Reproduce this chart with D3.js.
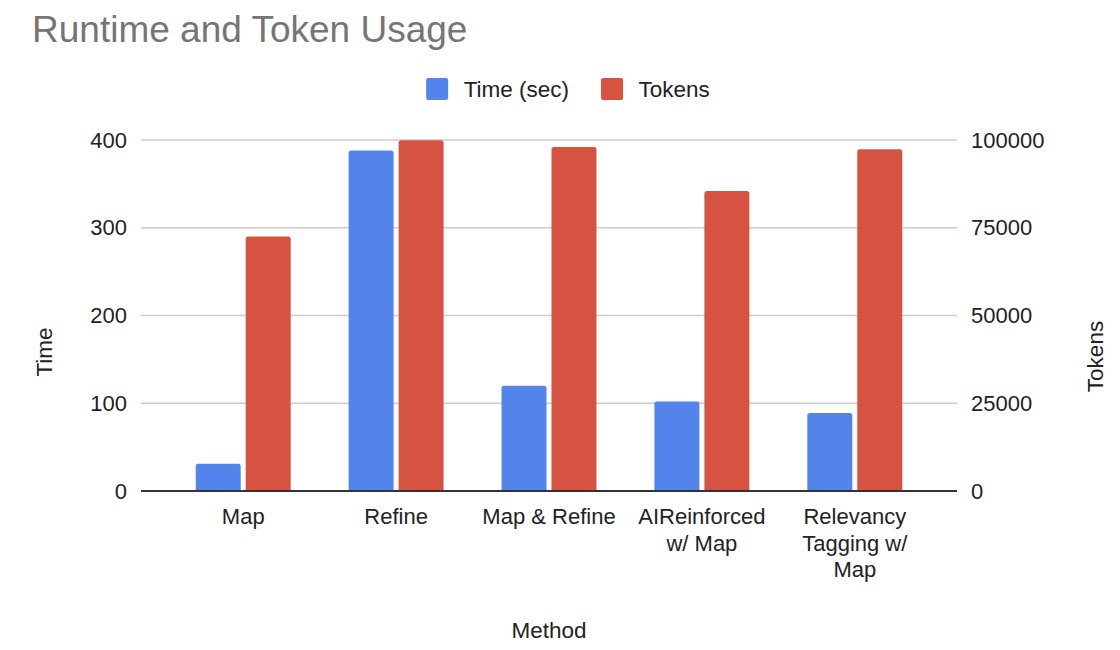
<!DOCTYPE html>
<html>
<head>
<meta charset="utf-8">
<script src="https://cdn.jsdelivr.net/npm/d3@7"></script>
<style>
  body { margin: 0; background: #fff; }
  text { font-family: "Liberation Sans", Arial, sans-serif; fill: #222; }
</style>
</head>
<body>
<div id="chart"></div>
<script>
// chart data
var categories = ["Map", "Refine", "Map & Refine", "AIReinforced w/ Map", "Relevancy Tagging w/ Map"];
var categoryLines = [["Map"], ["Refine"], ["Map & Refine"], ["AIReinforced", "w/ Map"], ["Relevancy", "Tagging w/", "Map"]];
var timeValues = [31, 388, 120, 102, 89];
var tokenValues = [72500, 99900, 98000, 85500, 97400];
var timeTicks = [0, 100, 200, 300, 400];
var tokenTicks = [0, 25000, 50000, 75000, 100000];
var seriesNames = ["Time (sec)", "Tokens"];
var seriesColors = ["#5384ec", "#d65241"];

var svgWidth = 1120;
var svgHeight = 650;

var plot = { left: 141, right: 957, top: 140, bottom: 491 };

var svg = d3.select("#chart")
    .append("svg")
    .attr("width", svgWidth)
    .attr("height", svgHeight);

// scales
var x0 = d3.scaleBand()
    .domain(categories)
    .range([plot.left, plot.right])
    .paddingInner(0.379)
    .paddingOuter(0.358);

var x1 = d3.scaleBand()
    .domain(seriesNames)
    .range([0, x0.bandwidth()])
    .paddingInner(0.1);

var yTime = d3.scaleLinear().domain([0, 400]).range([plot.bottom, plot.top]);
var yTokens = d3.scaleLinear().domain([0, 100000]).range([plot.bottom, plot.top]);

// gridlines
svg.append("g")
    .selectAll("line")
    .data(timeTicks.slice(1))
    .enter()
    .append("line")
    .attr("x1", plot.left)
    .attr("x2", plot.right)
    .attr("y1", d => yTime(d))
    .attr("y2", d => yTime(d))
    .attr("stroke", "#cccccc")
    .attr("stroke-width", 1.5);

// bars with rounded tops
function barPath(x, y, w, h, r) {
    r = Math.min(r, h, w / 2);
    return "M" + x + "," + (y + h) +
        "V" + (y + r) +
        "Q" + x + "," + y + " " + (x + r) + "," + y +
        "H" + (x + w - r) +
        "Q" + (x + w) + "," + y + " " + (x + w) + "," + (y + r) +
        "V" + (y + h) + "Z";
}

var groups = svg.append("g")
    .selectAll("g")
    .data(categories)
    .enter()
    .append("g")
    .attr("transform", d => `translate(${x0(d)},0)`);

groups.append("path")
    .attr("fill", seriesColors[0])
    .attr("d", function (d, i) {
        var y = yTime(timeValues[i]);
        return barPath(x1(seriesNames[0]), y, x1.bandwidth(), plot.bottom - y, 2.5);
    });

groups.append("path")
    .attr("fill", seriesColors[1])
    .attr("d", function (d, i) {
        var y = yTokens(tokenValues[i]);
        return barPath(x1(seriesNames[1]), y, x1.bandwidth(), plot.bottom - y, 2.5);
    });

// baseline
svg.append("line")
    .attr("x1", plot.left)
    .attr("x2", plot.right)
    .attr("y1", plot.bottom)
    .attr("y2", plot.bottom)
    .attr("stroke", "#333")
    .attr("stroke-width", 2);

// axes
var leftAxis = svg.append("g")
    .attr("transform", `translate(${plot.left},0)`)
    .call(d3.axisLeft(yTime).tickValues(timeTicks).tickSize(0).tickPadding(14));

var rightAxis = svg.append("g")
    .attr("transform", `translate(${plot.right},0)`)
    .call(d3.axisRight(yTokens).tickValues(tokenTicks).tickSize(0).tickPadding(14).tickFormat(d3.format("d")));

var bottomAxis = svg.append("g")
    .attr("transform", `translate(0,${plot.bottom})`)
    .call(d3.axisBottom(x0).tickSize(0));

[leftAxis, rightAxis, bottomAxis].forEach(function (a) {
    a.select(".domain").remove();
    a.attr("font-family", null).attr("font-size", null);
    a.selectAll("text")
        .style("font-family", '"Liberation Sans", Arial, sans-serif')
        .style("font-size", "22px")
        .attr("fill", "#222");
});

bottomAxis.selectAll(".tick text")
    .each(function (d, i) {
        var t = d3.select(this);
        t.text(null).attr("dy", null).attr("y", 33);
        categoryLines[i].forEach(function (line, j) {
            t.append("tspan")
                .attr("x", 0)
                .attr("dy", j === 0 ? 0 : 26.7)
                .text(line);
        });
    });

// title
svg.append("text")
    .attr("x", 32)
    .attr("y", 42)
    .style("font-size", "37px")
    .style("fill", "#757575")
    .text("Runtime and Token Usage");

// axis titles
svg.append("text")
    .attr("transform", "translate(52, 352) rotate(-90)")
    .attr("text-anchor", "middle")
    .style("font-size", "22.5px")
    .text("Time");

svg.append("text")
    .attr("transform", "translate(1103, 356.5) rotate(-90)")
    .attr("text-anchor", "middle")
    .style("font-size", "22.5px")
    .text("Tokens");

svg.append("text")
    .attr("x", (plot.left + plot.right) / 2)
    .attr("y", 638)
    .attr("text-anchor", "middle")
    .style("font-size", "22.5px")
    .text("Method");

// legend
var legend = svg.append("g");
var lx = 0;
seriesNames.forEach(function (name, i) {
    var item = legend.append("g").attr("transform", `translate(${lx},0)`);
    item.append("rect")
        .attr("x", 0)
        .attr("y", 78)
        .attr("width", 22)
        .attr("height", 22)
        .attr("rx", 2)
        .attr("fill", seriesColors[i]);
    var label = item.append("text")
        .attr("x", 37.5)
        .attr("y", 97.3)
        .style("font-size", "22.5px")
        .text(name);
    lx += 37.5 + label.node().getComputedTextLength() + 32;
});
var lb = legend.node().getBBox();
legend.attr("transform", `translate(${568 - lb.width / 2},0)`);
</script>
</body>
</html>
